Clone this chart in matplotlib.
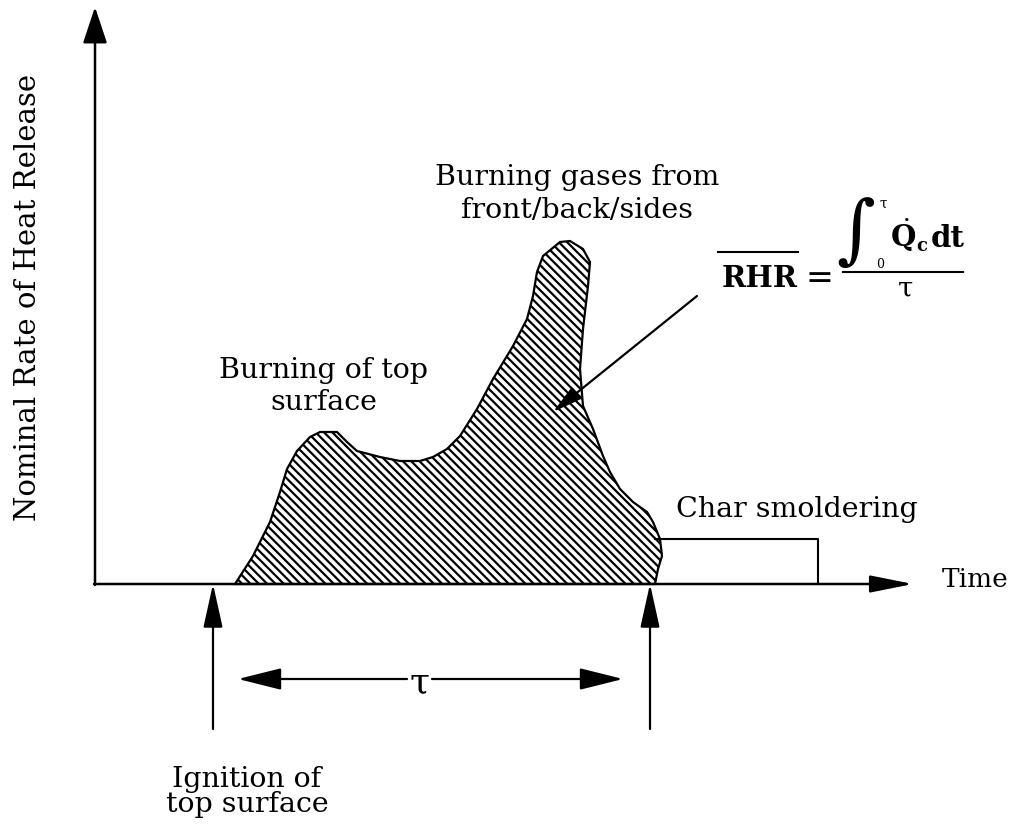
import matplotlib.pyplot as plt

plt.rcParams['font.family'] = ['DejaVu Serif']
plt.rcParams['mathtext.fontset'] = 'dejavuserif'
plt.rcParams['hatch.linewidth'] = 1.6

# heat release outline (time, rate) in arbitrary units, origin at the axes corner
burn_time = [140, 158, 175, 185, 192, 202, 215, 225, 242, 252, 262, 285, 305, 325,
             338, 352, 365, 382, 398, 418, 432, 438, 442, 448, 465, 475, 488, 495,
             493, 488, 485, 488, 498, 508, 515, 525, 538, 552, 558, 565, 567, 563, 560]
burn_rate = [0, 28, 62, 92, 115, 133, 147, 152, 152, 142, 133, 127, 123, 123,
             127, 135, 148, 175, 205, 238, 265, 288, 312, 328, 342, 343, 335, 322,
             298, 255, 215, 178, 155, 128, 112, 95, 82, 72, 62, 45, 28, 15, 0]

char_start = 560
char_end = 723
char_level = 45

ignition_time = 118
flameout_time = 555

X0, Y0 = 95, 585
FS = 20.5


def P(x, y):
    # figure pixel -> data coords
    return x - X0, Y0 - y


fig = plt.figure(figsize=(10.19, 8.29), dpi=100)
ax = fig.add_axes([0, 0, 1, 1])
ax.set_xlim(-X0, 1019 - X0)
ax.set_ylim(Y0 - 829, Y0)
ax.axis('off')

# shaded burning region
ax.fill(burn_time, burn_rate, facecolor='white', edgecolor='black',
        hatch='\\\\\\\\', linewidth=1.6, zorder=2)

# char smoldering box
ax.plot([char_start, char_end, char_end], [char_level, char_level, 0],
        color='black', lw=1.5, zorder=3)

# axes
ax.annotate('', xy=P(95, 8), xytext=P(95, 586),
            arrowprops=dict(arrowstyle='-|>,head_length=1.5,head_width=0.5',
                            mutation_scale=15, lw=1.8, color='black',
                            shrinkA=0, shrinkB=0))
ax.annotate('', xy=P(913, 585), xytext=P(94, 585),
            arrowprops=dict(arrowstyle='-|>,head_length=1.75,head_width=0.35',
                            mutation_scale=15, lw=1.8, color='black',
                            shrinkA=0, shrinkB=0), zorder=4)

# ignition / flame-out markers
for t in [ignition_time, flameout_time]:
    ax.annotate('', xy=(t, 0), xytext=(t, Y0 - 730),
                arrowprops=dict(arrowstyle='-|>,head_length=1.8,head_width=0.4',
                                mutation_scale=15, lw=1.6, color='black',
                                shrinkA=0, shrinkB=0))

# tau span
ax.annotate('', xy=P(238, 680), xytext=P(407, 680),
            arrowprops=dict(arrowstyle='-|>,head_length=1.8,head_width=0.45',
                            mutation_scale=15, lw=1.6, color='black',
                            shrinkA=0, shrinkB=0))
ax.annotate('', xy=P(623, 680), xytext=P(432, 680),
            arrowprops=dict(arrowstyle='-|>,head_length=1.8,head_width=0.45',
                            mutation_scale=15, lw=1.6, color='black',
                            shrinkA=0, shrinkB=0))
ax.text(*P(420, 682), 'τ', fontsize=26, ha='center', va='center')

# pointer to the area
ax.annotate('', xy=P(553, 413), xytext=P(697, 297),
            arrowprops=dict(arrowstyle='-|>,head_length=1.2,head_width=0.3',
                            mutation_scale=15, lw=1.6, color='black',
                            shrinkA=0, shrinkB=0), zorder=5)

# labels
ax.text(*P(28, 297), 'Nominal Rate of Heat Release', fontsize=21,
        rotation=90, ha='center', va='center')
ax.text(*P(942, 587), 'Time', fontsize=19, ha='left', va='baseline')
ax.text(*P(797, 517), 'Char smoldering', fontsize=FS, ha='center', va='baseline')
ax.text(*P(324, 378), 'Burning of top', fontsize=FS, ha='center', va='baseline')
ax.text(*P(324, 410), 'surface', fontsize=FS, ha='center', va='baseline')
ax.text(*P(577, 185), 'Burning gases from', fontsize=FS, ha='center', va='baseline')
ax.text(*P(577, 218), 'front/back/sides', fontsize=FS, ha='center', va='baseline')
ax.text(*P(247, 787), 'Ignition of', fontsize=FS, ha='center', va='baseline')
ax.text(*P(247, 812), 'top surface', fontsize=FS, ha='center', va='baseline')

# mean RHR formula
ax.text(*P(760, 287), 'RHR', fontsize=21, fontweight='bold', ha='center', va='baseline')
ax.plot(*zip(P(718, 253), P(798, 253)), color='black', lw=1.5)
ax.text(*P(819, 279), '=', fontsize=24, ha='center', va='center')
ax.plot(*zip(P(843, 273), P(963, 273)), color='black', lw=1.5)
ax.text(*P(856, 232), r'$\int$', fontsize=38, ha='center', va='center')
ax.text(*P(883, 204), 'τ', fontsize=10, ha='center', va='center')
ax.text(*P(880, 265), '0', fontsize=9, ha='center', va='center')
ax.text(*P(903, 247), r'$\dot{\mathbf{Q}}$', fontsize=21, ha='center', va='baseline')
ax.text(*P(922, 251), 'c', fontsize=13, fontweight='bold', ha='center', va='baseline')
ax.text(*P(931, 247), 'dt', fontsize=21, fontweight='bold', ha='left', va='baseline')
ax.text(*P(906, 297), 'τ', fontsize=20, ha='center', va='baseline')

fig.savefig('out.png', dpi=100, facecolor='white')
